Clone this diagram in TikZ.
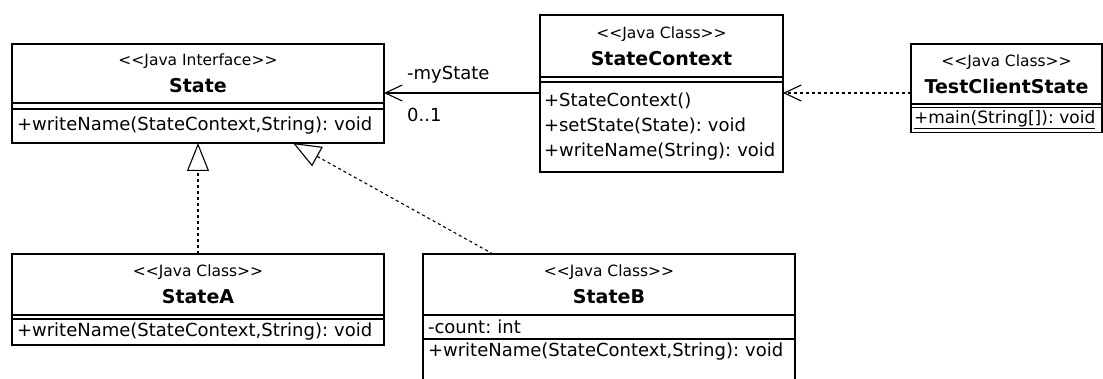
\documentclass[tikz,border=0pt]{standalone}
\usepackage{fontspec}
\setmainfont{DejaVu Sans}
\usetikzlibrary{arrows.meta}
\frenchspacing

\newcommand\stereo[1]{{\fontsize{15.5}{27}\selectfont<\kern0pt<#1>\kern0pt>}}

\begin{document}
\begin{tikzpicture}[x=1pt,y=1pt,yscale=-1,
    box/.style={draw, line width=1.4pt, anchor=north west, inner sep=0pt, outer sep=0pt},
    head/.style={box, align=center, font=\fontsize{19}{27}\selectfont},
    comp/.style={box, align=left, inner xsep=5pt, font=\fontsize{18}{25}\selectfont},
    lbl/.style={anchor=west, inner sep=0pt, font=\fontsize{18}{22}\selectfont},
    assoc/.style={line width=1.1pt, -{Straight Barb[length=17pt,width=16pt]}},
    dep/.style={assoc, dash pattern=on 3pt off 3pt},
    real/.style={line width=1.1pt, dash pattern=on 3pt off 3pt, -{Triangle[open,length=28pt,width=22pt]}}]
\useasboundingbox (0,0) rectangle (1103,379);
\clip (0,0) rectangle (1103,379);
% State
\node[head, minimum width=372pt, minimum height=59pt] (statehead) at (12,44) {\stereo{Java Interface}\\\textbf{State}};
\node[box, minimum width=372pt, minimum height=6pt] (stateattr) at (statehead.south west) {};
\node[comp, text width=362pt, minimum height=34pt] (stateops) at (stateattr.south west) {+writeName(StateContext,String): void};
% StateContext
\node[head, minimum width=243pt, minimum height=62pt] (ctxhead) at (540,15) {\stereo{Java Class}\\\textbf{StateContext}};
\node[box, minimum width=243pt, minimum height=5pt] (ctxattr) at (ctxhead.south west) {};
\node[comp, inner xsep=4pt, text width=235pt, minimum height=90pt] (ctxops) at (ctxattr.south west) {+StateContext()\\+setState(State): void\\+writeName(String): void};
% TestClientState
\node[head, minimum width=191pt, minimum height=60pt] (testhead) at (911,44) {\stereo{Java Class}\\\textbf{TestClientState}};
\node[box, minimum width=191pt, minimum height=3.5pt] (testattr) at (testhead.south west) {};
\node[comp, inner xsep=3pt, text width=185pt, minimum height=25pt, font=\fontsize{17}{22}\selectfont] (testops) at (testattr.south west) {\underline{+main(String[]): void}};
% StateA
\node[head, minimum width=372pt, minimum height=61pt] (ahead) at (12,254) {\stereo{Java Class}\\\textbf{StateA}};
\node[box, minimum width=372pt, minimum height=4pt] (aattr) at (ahead.south west) {};
\node[comp, text width=362pt, minimum height=26pt] (aops) at (aattr.south west) {+writeName(StateContext,String): void};
% StateB
\node[head, minimum width=372pt, minimum height=61pt] (bhead) at (423,254) {\stereo{Java Class}\\\textbf{StateB}};
\node[comp, text width=362pt, minimum height=24pt] (battr) at (bhead.south west) {-count: int};
\node[comp, text width=362pt, inner ysep=4pt, text depth=30pt] (bops) at (battr.south west) {+writeName(StateContext,String): void};

\coordinate (myst) at ([yshift=-10pt]statehead.south east);
\draw[assoc] (myst -| ctxops.west) -- (myst);
\node[lbl] (role) at ([xshift=23pt,yshift=-18pt]myst) {-myState};
\node[lbl] (mult) at ([xshift=23pt,yshift=22pt]myst) {0..1};
\coordinate (use) at ([yshift=-11pt]testhead.south west);
\draw[dep] (use) -- (use -| ctxops.east);
\draw[real] (ahead.north) -- (ahead.north |- stateops.south);
\draw[real] ([xshift=-116pt]bhead.north) -- ([xshift=95pt]stateops.south);
\end{tikzpicture}
\end{document}
